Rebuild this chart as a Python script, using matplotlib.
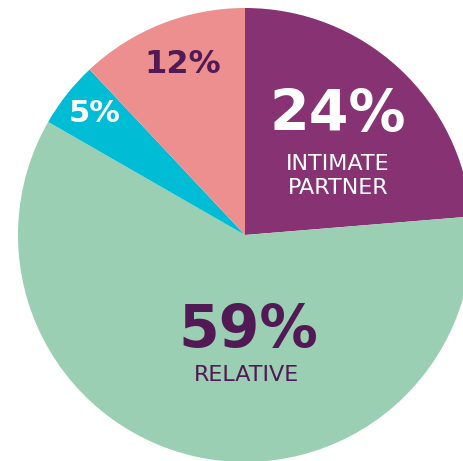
import matplotlib
matplotlib.use("Agg")
import matplotlib.pyplot as plt

# slice shares (clockwise from 12 o'clock)
shares = [23.7, 59.6, 4.7, 12.0]
pct_labels = ["24%", "59%", "5%", "12%"]
sub_labels = ["INTIMATE\nPARTNER", "RELATIVE", "", ""]
colors = ["#873272", "#9bcfb4", "#00bcd4", "#ec8f8e"]

W, H = 463, 461
fig = plt.figure(figsize=(W / 100, H / 100), dpi=100)
ax = fig.add_axes([0, 0, 1, 1])

cx, cy, r = 245, H - 235, 227
ax.pie(shares, colors=colors, startangle=90, counterclock=False,
       center=(cx, cy), radius=r, frame=True,
       wedgeprops=dict(linewidth=0))
ax.set_xlim(0, W)
ax.set_ylim(0, H)
ax.set_aspect("equal")
ax.axis("off")

dark = "#521a54"
fam = "DejaVu Sans"

ax.text(338, H - 116, pct_labels[0], color="white", fontsize=41, fontweight="bold",
        ha="center", va="center", family=fam)
ax.text(338, H - 176, sub_labels[0], color="white", fontsize=16, ha="center",
        va="center", linespacing=1.25, family=fam)
ax.text(248, H - 330, pct_labels[1], color=dark, fontsize=42, fontweight="bold",
        ha="center", va="center", family=fam)
ax.text(247, H - 375, sub_labels[1], color=dark, fontsize=16, ha="center",
        va="center", family=fam)
ax.text(95, H - 113, pct_labels[2], color="white", fontsize=22, fontweight="bold",
        ha="center", va="center", family=fam)
ax.text(183, H - 65, pct_labels[3], color=dark, fontsize=23, fontweight="bold",
        ha="center", va="center", family=fam)

fig.savefig("out.png", dpi=100)
